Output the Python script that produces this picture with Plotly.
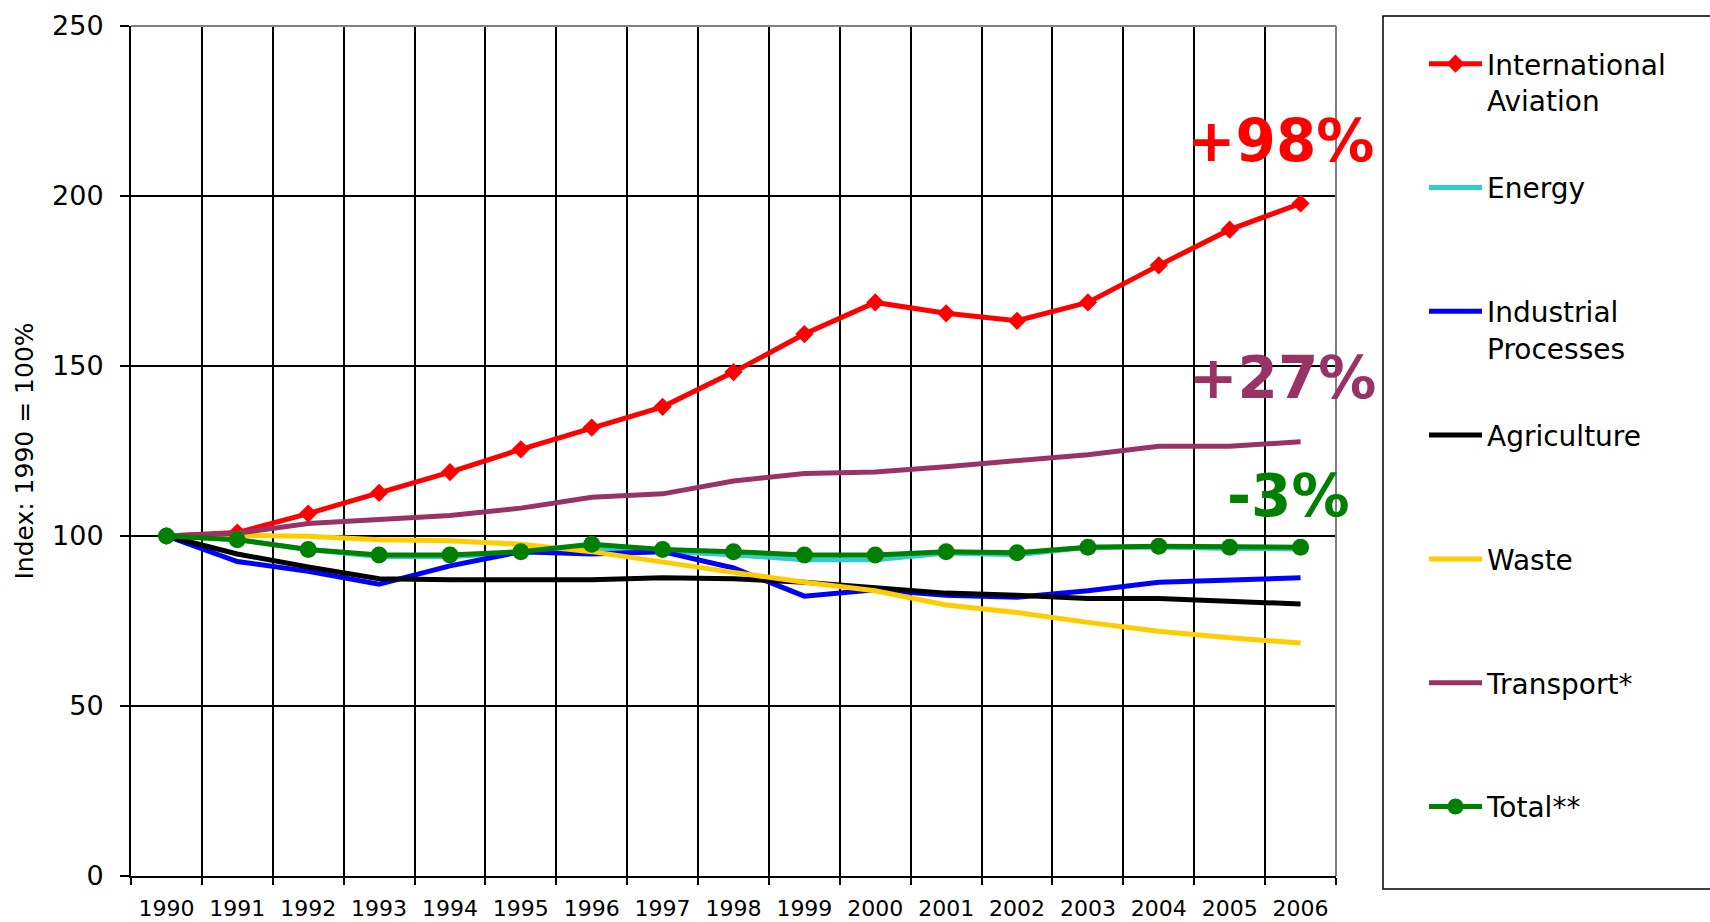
import plotly.graph_objects as go

years = ["1990", "1991", "1992", "1993", "1994", "1995", "1996", "1997", "1998",
         "1999", "2000", "2001", "2002", "2003", "2004", "2005", "2006"]

aviation = [100, 101, 106.6, 112.7, 118.8, 125.5, 131.9, 138.0, 148.2, 159.4,
            168.7, 165.5, 163.3, 168.7, 179.6, 190.1, 197.8]
energy = [100, 99, 96, 94, 94, 95, 96.5, 95.5, 94.5, 93, 93, 95, 94.5, 96.7,
          96.8, 96.3, 96.2]
industrial = [100, 92.5, 89.6, 85.8, 91.2, 95.4, 94.7, 95.4, 90.6, 82.3, 84.2,
              82.6, 82.0, 83.9, 86.4, 87.1, 87.7]
agriculture = [100, 94.7, 90.9, 87.4, 87.1, 87.1, 87.1, 87.7, 87.4, 86.4, 84.8,
               83.2, 82.6, 81.6, 81.6, 80.7, 80.0]
waste = [100, 100.2, 99.9, 98.9, 98.6, 97.6, 95.4, 92.2, 89.3, 86.4, 83.9, 79.7,
         77.5, 74.6, 72.0, 70.1, 68.5]
transport = [100, 100.8, 103.7, 104.7, 106.0, 108.2, 111.4, 112.4, 116.2, 118.4,
             118.8, 120.4, 122.0, 123.9, 126.4, 126.4, 127.7]
total = [100, 98.9, 96.0, 94.4, 94.4, 95.4, 97.6, 96.0, 95.4, 94.4, 94.4, 95.4,
         95.1, 96.7, 97.0, 96.7, 96.7]

NB = "\u00a0"
series = [
    ("International<br>Aviation", aviation, "#FF0000", "diamond", 14),
    ("Energy<br>" + NB, energy, "#33CCCC", None, 0),
    ("Industrial<br>Processes", industrial, "#0000FF", None, 0),
    ("Agriculture<br>" + NB, agriculture, "#000000", None, 0),
    ("Waste<br>" + NB, waste, "#FFCC00", None, 0),
    ("Transport*<br>" + NB, transport, "#993366", None, 0),
    ("Total**<br>" + NB, total, "#008000", "circle", 17),
]

fig = go.Figure()
for i, (name, vals, color, sym, size) in enumerate(series):
    if sym:
        fig.add_trace(go.Scatter(
            x=years, y=vals, name=name, mode="lines+markers",
            line=dict(color=color, width=5),
            marker=dict(symbol=sym, size=size, color=color),
            legendgroup="g%d" % i))
    else:
        fig.add_trace(go.Scatter(
            x=years, y=vals, name=name, mode="lines",
            line=dict(color=color, width=5),
            legendgroup="g%d" % i))

# figure pixel geometry (page body margin is removed in post_script)
W, H = 1710, 922
L, R, T, B = 131, 374, 26, 46
pw, ph = W - L - R, H - T - B


def px_x(p):
    return (p - L) / pw


def px_y(p):
    return (H - B - p) / ph


font_family = "DejaVu Sans"

fig.update_layout(
    width=W, height=H,
    margin=dict(l=L, r=R, t=T, b=B, pad=0, autoexpand=False),
    paper_bgcolor="white", plot_bgcolor="white",
    font=dict(family=font_family, color="black"),
    showlegend=True,
    legend=dict(
        x=px_x(1424), y=px_y(39), xanchor="left", yanchor="top",
        xref="paper", yref="paper",
        font=dict(size=28, family=font_family, color="black"),
        valign="top", tracegroupgap=48, bgcolor="rgba(0,0,0,0)",
        borderwidth=0, maxheight=900, itemwidth=53,
    ),
    xaxis=dict(
        type="category", tickson="boundaries", range=[-0.5, 16.5],
        autorange=False,
        showgrid=True, gridcolor="black", gridwidth=2,
        showline=True, linecolor="black", linewidth=2,
        ticks="outside", ticklen=7, tickwidth=2, tickcolor="black",
        tickfont=dict(size=22, family=font_family, color="black"),
        ticklabelstandoff=12, zeroline=False,
    ),
    yaxis=dict(
        range=[0, 250], dtick=50, tick0=0, autorange=False,
        showgrid=True, gridcolor="black", gridwidth=1.5,
        showline=True, linecolor="black", linewidth=2,
        ticks="outside", ticklen=9, tickwidth=2, tickcolor="black",
        tickfont=dict(size=27, family=font_family, color="black"),
        ticklabelstandoff=11, zeroline=False,
        title=dict(text="Index: 1990 = 100%", standoff=11,
                   font=dict(size=25, family=font_family, color="black")),
    ),
    shapes=[
        dict(type="line", xref="paper", yref="paper", x0=0, x1=1, y0=1, y1=1,
             line=dict(color="#808080", width=2), layer="above"),
        dict(type="line", xref="paper", yref="paper", x0=1, x1=1, y0=0, y1=1,
             line=dict(color="#808080", width=2), layer="above"),
        dict(type="rect", xref="paper", yref="paper",
             x0=px_x(1383), x1=px_x(1800), y0=px_y(889), y1=px_y(16),
             line=dict(color="black", width=1.5), fillcolor="rgba(0,0,0,0)",
             layer="above"),
    ],
    annotations=[
        dict(text="<b>+98%</b>", xref="paper", yref="paper", x=px_x(1280),
             y=px_y(141), xanchor="center", yanchor="middle", showarrow=False,
             font=dict(size=58, color="#FF0000", family=font_family)),
        dict(text="<b>+27%</b>", xref="paper", yref="paper", x=px_x(1282),
             y=px_y(378), xanchor="center", yanchor="middle", showarrow=False,
             font=dict(size=58, color="#993366", family=font_family)),
        dict(text="<b>-3%</b>", xref="paper", yref="paper", x=px_x(1288),
             y=px_y(496), xanchor="center", yanchor="middle", showarrow=False,
             font=dict(size=58, color="#008000", family=font_family)),
    ],
)

fig.write_html("out.html",
               config={"displayModeBar": False},
               post_script="document.body.style.margin='0';"
                           "document.body.style.overflow='hidden';")
